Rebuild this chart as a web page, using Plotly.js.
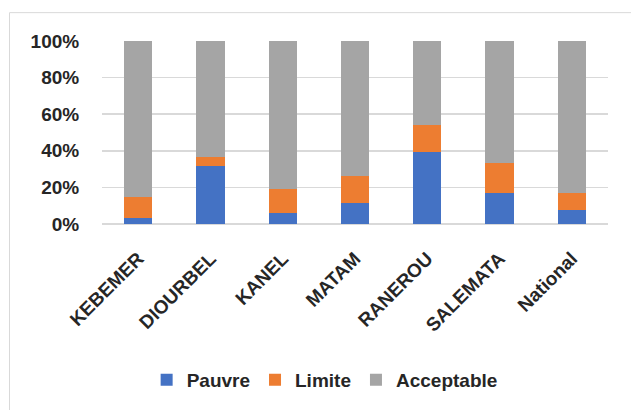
<!DOCTYPE html>
<html>
<head>
<meta charset="utf-8">
<script src="https://cdn.plot.ly/plotly-3.0.1.min.js"></script>
<style>
  html, body { margin: 0; padding: 0; background: #ffffff; }
  #chart { width: 631px; height: 410px; }
</style>
</head>
<body>
<div id="chart"></div>
<script>
const categories = ["KEBEMER", "DIOURBEL", "KANEL", "MATAM", "RANEROU", "SALEMATA", "National"];
const pauvre     = [3.5, 31.5, 6.2, 11.4, 39.1, 16.7, 7.8];
const limite     = [11.3, 5.1, 13.0, 14.7, 14.9, 16.5, 8.9];
const acceptable = [85.2, 63.4, 80.8, 73.9, 46.0, 66.8, 83.3];
const seriesNames = ["Pauvre", "Limite", "Acceptable"];
const yTickVals = [0, 20, 40, 60, 80, 100];
const yTickText = ["0%", "20%", "40%", "60%", "80%", "100%"];

const colors = ["#4472C4", "#ED7D31", "#A5A5A5"];
const values = [pauvre, limite, acceptable];
const fontFam = "Liberation Sans, Arial, sans-serif";
const textColor = "#262626";

const traces = values.map((v, i) => ({
  type: "bar",
  name: seriesNames[i],
  x: categories,
  y: v,
  marker: { color: colors[i], line: { width: 0 } },
  hoverinfo: "skip"
}));

const layout = {
  width: 631,
  height: 410,
  barmode: "stack",
  bargap: 0.61,
  margin: { l: 102, r: 23, t: 41, b: 185, pad: 0 },
  paper_bgcolor: "#ffffff",
  plot_bgcolor: "#ffffff",
  font: { family: fontFam, size: 19, color: textColor },
  xaxis: {
    type: "category",
    range: [-0.5, 6.5],
    tickangle: -45,
    tickfont: { family: fontFam, size: 19, color: textColor, weight: "bold" },
    showgrid: false,
    showline: false,
    zeroline: false,
    ticks: "outside",
    ticklen: 15,
    tickcolor: "rgba(0,0,0,0)",
    fixedrange: true
  },
  yaxis: {
    range: [0, 100],
    tickvals: yTickVals,
    ticktext: yTickText,
    tickfont: { family: fontFam, size: 19, color: textColor, weight: "bold" },
    showgrid: true,
    gridcolor: "#D9D9D9",
    gridwidth: 1.5,
    zeroline: true,
    zerolinecolor: "#D9D9D9",
    zerolinewidth: 1.5,
    showline: false,
    ticks: "outside",
    ticklen: 18,
    tickcolor: "rgba(0,0,0,0)",
    fixedrange: true
  },
  showlegend: true,
  legend: {
    orientation: "h",
    x: 0.44,
    xanchor: "center",
    y: -0.842,
    yanchor: "middle",
    font: { family: fontFam, size: 19, color: textColor, weight: "bold" },
    traceorder: "normal",
    itemclick: false,
    itemdoubleclick: false
  },
  shapes: [{
    type: "rect",
    xref: "paper",
    yref: "paper",
    x0: (9.5 - 102) / 506,
    x1: 1.2,
    y0: -1.2,
    y1: (225 - 12.5) / 184,
    line: { color: "#D9D9D9", width: 1 },
    fillcolor: "rgba(0,0,0,0)",
    layer: "below"
  }]
};

Plotly.newPlot("chart", traces, layout, { displayModeBar: false, staticPlot: true });
</script>
</body>
</html>
